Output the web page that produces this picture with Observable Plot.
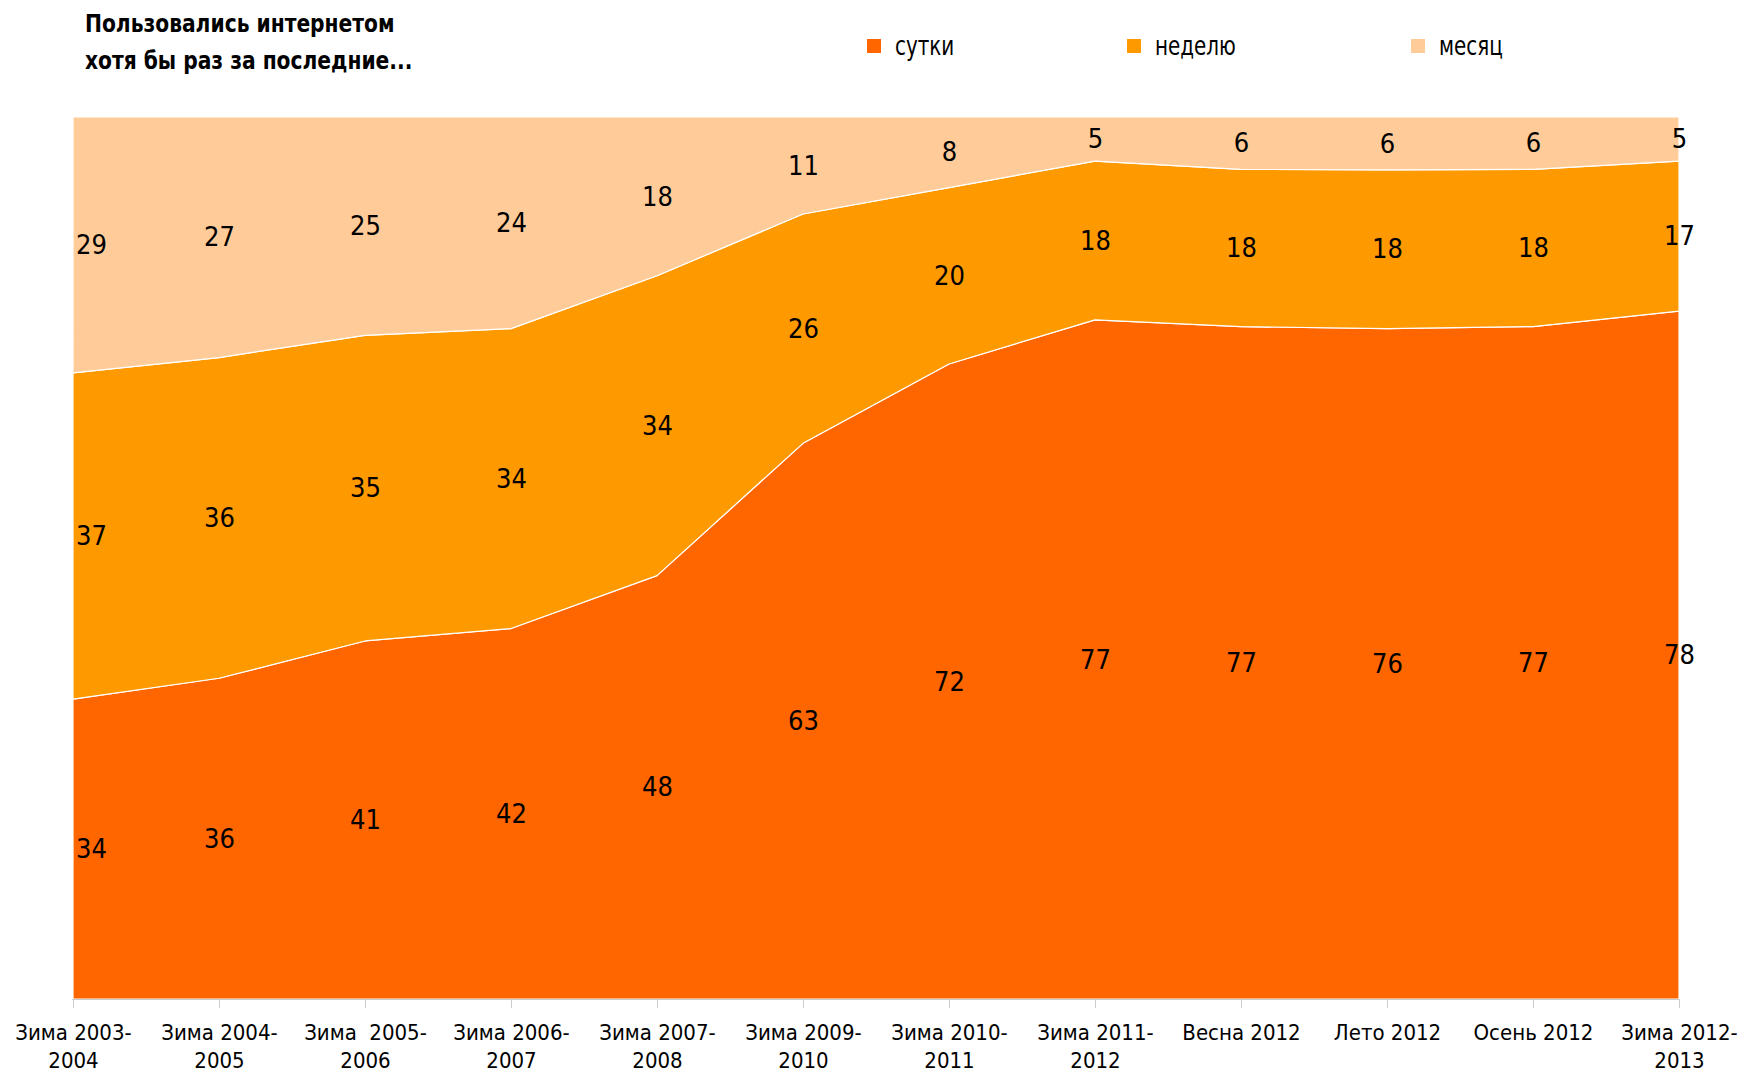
<!DOCTYPE html>
<html>
<head>
<meta charset="utf-8">
<script src="https://cdn.jsdelivr.net/npm/d3@7"></script>
<script src="https://cdn.jsdelivr.net/npm/@observablehq/plot@0.6"></script>
<style>
  body { margin: 0; background: #fff; font-family: "DejaVu Sans Condensed", "DejaVu Sans", sans-serif; }
  #header { position: relative; width: 1742px; height: 95px; }
  #title { position: absolute; left: 85px; top: 5px; font-size: 25px; line-height: 37px; font-weight: bold; color: #000; transform: scaleX(0.9); transform-origin: 0 0; white-space: nowrap; }
  .leg { position: absolute; top: 32px; font-size: 27px; line-height: 28px; color: #000; transform: scaleX(0.82); transform-origin: 0 0; white-space: nowrap; }
  .sq { position: absolute; top: 39px; width: 14px; height: 14px; }
</style>
</head>
<body>
<div id="header"></div>
<div id="chart"></div>
<script>
const categories = ["Зима 2003-\n2004", "Зима 2004-\n2005", "Зима  2005-\n2006", "Зима 2006-\n2007", "Зима 2007-\n2008", "Зима 2009-\n2010", "Зима 2010-\n2011", "Зима 2011-\n2012", "Весна 2012", "Лето 2012", "Осень 2012", "Зима 2012-\n2013"];
const seriesNames = ["сутки", "неделю", "месяц"];
const sutki  = [34, 36, 41, 42, 48, 63, 72, 77, 77, 76, 77, 78];
const nedelyu = [37, 36, 35, 34, 34, 26, 20, 18, 18, 18, 18, 17];
const mesyats = [29, 27, 25, 24, 18, 11, 8, 5, 6, 6, 6, 5];
const colors = ["#FF6600", "#FF9900", "#FFCC99"];
const titleLines = ["Пользовались интернетом", "хотя бы раз за последние..."];

const seriesValues = [sutki, nedelyu, mesyats];
const data = [];
seriesNames.forEach((s, si) => categories.forEach((c, ci) => data.push({cat: c, idx: ci, series: s, value: seriesValues[si][ci]})));

// header: title + legend
const header = document.getElementById("header");
const t = document.createElement("div");
t.id = "title";
t.innerHTML = titleLines.join("<br>");
header.appendChild(t);
const legX = [867, 1127, 1411];
seriesNames.forEach((s, i) => {
  const sq = document.createElement("div");
  sq.className = "sq"; sq.style.left = legX[i] + "px"; sq.style.background = colors[i];
  header.appendChild(sq);
  const lb = document.createElement("div");
  lb.className = "leg"; lb.style.left = (legX[i] + 28) + "px"; lb.textContent = s;
  header.appendChild(lb);
});

const stackOpts = {x: "cat", y: "value", z: "series", order: seriesNames, offset: "normalize"};

const chart = Plot.plot({
  width: 1742,
  height: 981,
  marginLeft: 72,
  marginRight: 62,
  marginTop: 22,
  marginBottom: 77,
  style: {fontFamily: "'DejaVu Sans Condensed', 'DejaVu Sans', sans-serif", background: "#fff"},
  x: {type: "point", domain: categories, padding: 0, label: null},
  y: {axis: null, domain: [0, 1]},
  color: {domain: seriesNames, range: colors},
  marks: [
    Plot.areaY(data, {...stackOpts, fill: "series", stroke: "#fff", strokeWidth: 1.2}),
    Plot.ruleY([0], {stroke: "#ccc", strokeWidth: 1}),
    Plot.axisX({tickSize: 9, tickPadding: 11, fontSize: 22, lineHeight: 1.3, stroke: "#ccc", fill: "#000", label: null}),
    Plot.text(data.filter(d => d.idx === 0), Plot.stackY({...stackOpts, text: "value", fontSize: 27, fill: "#000", dx: 18})),
    Plot.text(data.filter(d => d.idx > 0), Plot.stackY({...stackOpts, text: "value", fontSize: 27, fill: "#000"}))
  ]
});
document.getElementById("chart").appendChild(chart);
</script>
</body>
</html>
